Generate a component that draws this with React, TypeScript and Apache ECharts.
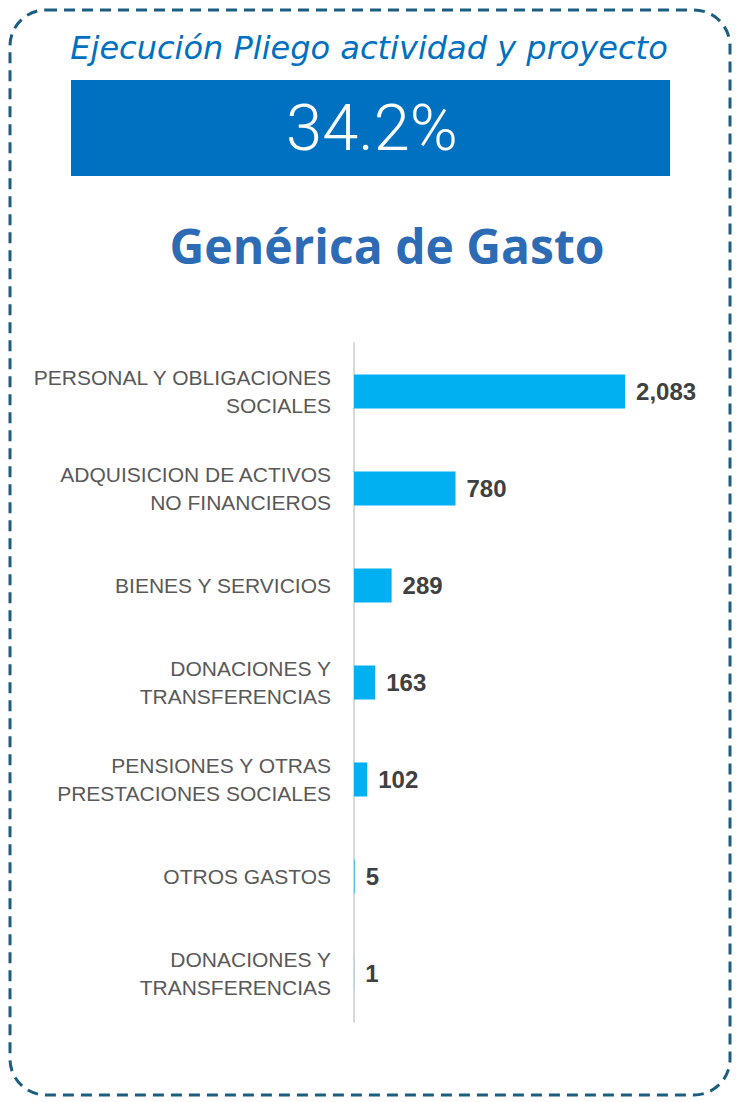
import React, { useEffect, useRef } from "react";
import * as echarts from "echarts";

const titleText = "Ejecución Pliego actividad y proyecto";
const kpiText = "34.2%";
const subtitleText = "Genérica de Gasto";
const categories = [
  "PERSONAL Y OBLIGACIONES\nSOCIALES",
  "ADQUISICION DE ACTIVOS\nNO FINANCIEROS",
  "BIENES Y SERVICIOS",
  "DONACIONES Y\nTRANSFERENCIAS",
  "PENSIONES Y OTRAS\nPRESTACIONES SOCIALES",
  "OTROS GASTOS",
  "DONACIONES Y\nTRANSFERENCIAS",
];
const values = [2083, 780, 289, 163, 102, 5, 1];

export default function App() {
  const ref = useRef<HTMLDivElement>(null);
  useEffect(() => {
    document.body.style.margin = "0";
    const chart = echarts.init(ref.current!, null, { renderer: "svg" });
    chart.setOption({
      animation: false,
      backgroundColor: "#ffffff",
      graphic: [
        {
          type: "rect",
          shape: { x: 10, y: 10, width: 720, height: 1085, r: 36 },
          style: { fill: "none", stroke: "#1b5e80", lineWidth: 3, lineDash: [11, 7] },
        },
        {
          type: "text",
          x: 369,
          y: 48,
          style: {
            text: titleText,
            font: "oblique 32px 'DejaVu Sans', sans-serif",
            fill: "#0070c0",
            align: "center",
            verticalAlign: "middle",
          },
        },
        {
          type: "rect",
          shape: { x: 71, y: 80, width: 599, height: 96 },
          style: { fill: "#0070c0" },
        },
        {
          type: "text",
          x: 372,
          y: 128,
          style: {
            text: kpiText,
            font: "300 65px Roboto, sans-serif",
            fill: "#ffffff",
            align: "center",
            verticalAlign: "middle",
          },
        },
        {
          type: "text",
          x: 387,
          y: 245,
          style: {
            text: subtitleText,
            font: "bold 48px 'Open Sans', sans-serif",
            fill: "#2e6bb5",
            align: "center",
            verticalAlign: "middle",
          },
        },
      ],
      grid: { left: 354, top: 343, width: 325.3, bottom: 80, containLabel: false },
      xAxis: {
        type: "value",
        min: 0,
        max: 2500,
        show: false,
      },
      yAxis: {
        type: "category",
        data: categories,
        inverse: true,
        axisLine: { show: true, lineStyle: { color: "#d9d9d9", width: 2 } },
        axisTick: { show: false },
        axisLabel: {
          margin: 23,
          color: "#595959",
          fontSize: 21,
          lineHeight: 28,
          fontFamily: "'Liberation Sans', Arial, sans-serif",
          align: "right",
        },
      },
      series: [
        {
          type: "bar",
          data: values,
          barWidth: 34,
          itemStyle: { color: "#00b0f0" },
          label: {
            show: true,
            position: "right",
            distance: 11,
            color: "#404040",
            fontSize: 24,
            fontWeight: "bold",
            fontFamily: "'Liberation Sans', Arial, sans-serif",
            formatter: (p: any) => Number(p.value).toLocaleString("en-US"),
          },
        },
      ],
    });
    return () => chart.dispose();
  }, []);
  return <div ref={ref} style={{ width: 742, height: 1102 }} />;
}
